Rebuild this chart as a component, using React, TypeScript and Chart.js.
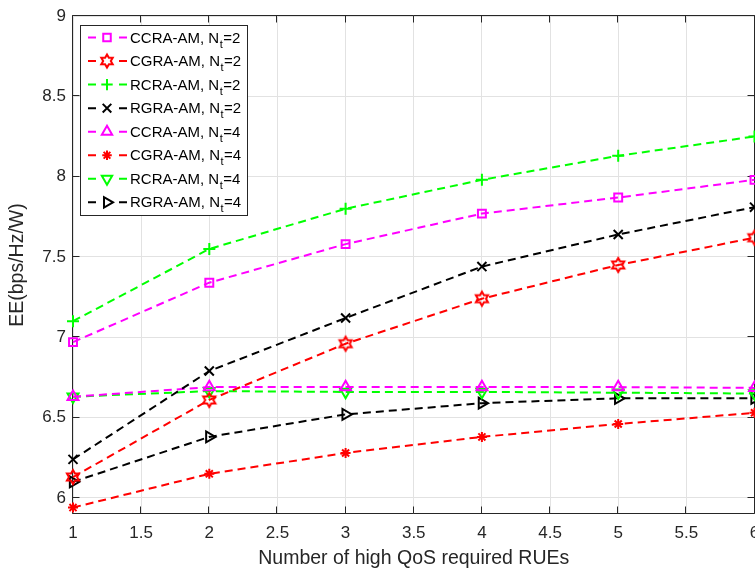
import React, { useEffect, useRef } from "react";
import { Chart, registerables } from "chart.js";
import { drawPoint } from "chart.js/helpers";

Chart.register(...registerables);

// ---------- data ----------
const xValues = [1, 2, 3, 4, 5, 6];
const xTicks = [1, 1.5, 2, 2.5, 3, 3.5, 4, 4.5, 5, 5.5, 6];
const yTicks = [6, 6.5, 7, 7.5, 8, 8.5, 9];

const ccraNt2 = [6.97, 7.34, 7.58, 7.77, 7.87, 7.98];
const cgraNt2 = [6.13, 6.61, 6.96, 7.24, 7.45, 7.62];
const rcraNt2 = [7.1, 7.55, 7.8, 7.98, 8.13, 8.25];
const rgraNt2 = [6.24, 6.79, 7.12, 7.44, 7.64, 7.81];
const ccraNt4 = [6.63, 6.69, 6.69, 6.69, 6.69, 6.685];
const cgraNt4 = [5.94, 6.15, 6.28, 6.38, 6.46, 6.53];
const rcraNt4 = [6.63, 6.665, 6.66, 6.66, 6.655, 6.65];
const rgraNt4 = [6.1, 6.38, 6.52, 6.59, 6.62, 6.62];

const seriesNames = [
  "CCRA-AM, N_t=2",
  "CGRA-AM, N_t=2",
  "RCRA-AM, N_t=2",
  "RGRA-AM, N_t=2",
  "CCRA-AM, N_t=4",
  "CGRA-AM, N_t=4",
  "RCRA-AM, N_t=4",
  "RGRA-AM, N_t=4",
];
const seriesValues = [ccraNt2, cgraNt2, rcraNt2, rgraNt2, ccraNt4, cgraNt4, rcraNt4, rgraNt4];

const xTitle = "Number of high QoS required RUEs";
const yTitle = "EE(bps/Hz/W)";

// ---------- styles ----------
const MAGENTA = "#ff00ff";
const RED = "#ff0000";
const GREEN = "#00ff00";
const BLACK = "#000000";
const AXIS = "#262626";
const GRID = "#e2e2e2";
const FONT = "'Liberation Sans', Arial, Helvetica, sans-serif";

function makeHexagram(color: string, R: number): HTMLCanvasElement {
  const c = document.createElement("canvas");
  const s = Math.ceil(2 * R + 6);
  c.width = s;
  c.height = s;
  const ctx = c.getContext("2d")!;
  const cx = s / 2, cy = s / 2, r = R / Math.sqrt(3);
  ctx.beginPath();
  for (let i = 0; i < 12; i++) {
    const ang = -Math.PI / 2 + (i * Math.PI) / 6;
    const rad = i % 2 === 0 ? R : r;
    const px = cx + rad * Math.cos(ang);
    const py = cy + rad * Math.sin(ang);
    if (i === 0) ctx.moveTo(px, py);
    else ctx.lineTo(px, py);
  }
  ctx.closePath();
  ctx.strokeStyle = color;
  ctx.lineWidth = 2;
  ctx.lineJoin = "miter";
  ctx.stroke();
  return c;
}

export default function App() {
  const ref = useRef<HTMLCanvasElement | null>(null);

  useEffect(() => {
    document.body.style.margin = "0";
    const canvas = ref.current!;
    const hexagram = makeHexagram(RED, 7);
    const hexagramSmall = makeHexagram(RED, 6.6);

    const styles = [
      { color: MAGENTA, pointStyle: "rect", radius: 5.6, rotation: 0 },
      { color: RED, pointStyle: hexagram as any, radius: 8, rotation: 0 },
      { color: GREEN, pointStyle: "cross", radius: 6, rotation: 0 },
      { color: BLACK, pointStyle: "crossRot", radius: 6.4, rotation: 0 },
      { color: MAGENTA, pointStyle: "triangle", radius: 6.3, rotation: 0 },
      { color: RED, pointStyle: "star", radius: 5, rotation: 0 },
      { color: GREEN, pointStyle: "triangle", radius: 6.3, rotation: 180 },
      { color: BLACK, pointStyle: "triangle", radius: 6.3, rotation: 90 },
    ];

    const datasets = seriesValues.map((vals, i) => ({
      label: seriesNames[i],
      data: xValues.map((x, j) => ({ x, y: vals[j] })),
      borderColor: styles[i].color,
      borderWidth: 2,
      borderDash: [8, 5],
      tension: 0,
      fill: false,
      clip: false as any,
      pointStyle: styles[i].pointStyle,
      pointRadius: styles[i].radius,
      pointRotation: styles[i].rotation,
      pointBorderColor: styles[i].color,
      pointBackgroundColor: "rgba(0,0,0,0)",
      pointBorderWidth: 2,
      pointHoverRadius: styles[i].radius,
    }));

    const boxPlugin = {
      id: "matlabBox",
      beforeDatasetsDraw(chart: any) {
        const { ctx, chartArea, scales } = chart;
        const l = Math.round(chartArea.left) - 0.5;
        const r = Math.round(chartArea.right) - 0.5;
        const t = Math.round(chartArea.top) - 0.5;
        const b = Math.round(chartArea.bottom) - 0.5;
        ctx.save();
        ctx.strokeStyle = AXIS;
        ctx.lineWidth = 1;
        ctx.setLineDash([]);
        ctx.beginPath();
        ctx.rect(l, t, r - l, b - t);
        const tl = 7;
        xTicks.forEach((v) => {
          const px = Math.round(scales.x.getPixelForValue(v)) - 0.5;
          ctx.moveTo(px, b);
          ctx.lineTo(px, b - tl);
          ctx.moveTo(px, t);
          ctx.lineTo(px, t + tl);
        });
        yTicks.forEach((v) => {
          const py = Math.round(scales.y.getPixelForValue(v)) - 0.5;
          ctx.moveTo(l, py);
          ctx.lineTo(l + tl, py);
          ctx.moveTo(r, py);
          ctx.lineTo(r - tl, py);
        });
        ctx.stroke();
        ctx.restore();
      },
      afterDraw(chart: any) {
        const { ctx, chartArea, scales } = chart;
        ctx.save();
        // x tick labels
        ctx.fillStyle = AXIS;
        ctx.font = `17px ${FONT}`;
        ctx.textAlign = "center";
        ctx.textBaseline = "alphabetic";
        xTicks.forEach((v) => {
          ctx.fillText(String(v), scales.x.getPixelForValue(v), 538);
        });
        // axis titles
        ctx.font = `19.5px ${FONT}`;
        ctx.fillText(xTitle, (chartArea.left + chartArea.right) / 2, 564);
        ctx.save();
        ctx.translate(23, (chartArea.top + chartArea.bottom) / 2);
        ctx.rotate(-Math.PI / 2);
        ctx.fillText(yTitle, 0, 0);
        ctx.restore();

        // legend
        const lx = 80.5, ly = 25.5, lw = 167, lh = 190;
        ctx.fillStyle = "#ffffff";
        ctx.fillRect(lx, ly, lw, lh);
        ctx.strokeStyle = AXIS;
        ctx.lineWidth = 1;
        ctx.setLineDash([]);
        ctx.strokeRect(lx, ly, lw, lh);
        chart.data.datasets.forEach((ds: any, i: number) => {
          const cy = 37.5 + i * 23.55;
          ctx.strokeStyle = ds.borderColor;
          ctx.lineWidth = 2;
          ctx.setLineDash([]);
          ctx.beginPath();
          ctx.moveTo(88, cy);
          ctx.lineTo(96, cy);
          ctx.moveTo(119, cy);
          ctx.lineTo(127, cy);
          ctx.stroke();
          ctx.fillStyle = "rgba(0,0,0,0)";
          const isImg = typeof ds.pointStyle === "object";
          drawPoint(
            ctx,
            {
              pointStyle: isImg ? hexagramSmall : ds.pointStyle,
              rotation: ds.pointRotation,
              radius: ds.pointRadius * 0.95,
              borderWidth: 2,
            } as any,
            107,
            cy
          );
          // label with subscript
          const label: string = ds.label;
          const m = label.match(/^(.*)_(\w)(.*)$/);
          const main = m ? m[1] : label;
          const sub = m ? m[2] : "";
          const rest = m ? m[3] : "";
          ctx.fillStyle = "#000000";
          ctx.textAlign = "left";
          ctx.textBaseline = "alphabetic";
          const base = cy + 5;
          ctx.font = `15px ${FONT}`;
          let x = 130;
          ctx.fillText(main, x, base);
          x += ctx.measureText(main).width;
          ctx.font = `11px ${FONT}`;
          ctx.fillText(sub, x + 0.5, base + 5);
          x += ctx.measureText(sub).width + 1;
          ctx.font = `15px ${FONT}`;
          ctx.fillText(rest, x, base);
        });
        ctx.restore();
      },
    };

    const chart = new Chart(canvas, {
      type: "line",
      data: { datasets: datasets as any },
      options: {
        responsive: false,
        maintainAspectRatio: false,
        animation: false,
        devicePixelRatio: 1,
        events: [],
        layout: { autoPadding: false, padding: { top: 16, right: 0.5, left: 0, bottom: 0 } },
        plugins: {
          legend: { display: false },
          tooltip: { enabled: false },
          title: { display: false },
        },
        scales: {
          x: {
            type: "linear",
            min: 1,
            max: 6,
            afterBuildTicks: (s: any) => {
              s.ticks = xTicks.map((v) => ({ value: v }));
            },
            afterFit: (s: any) => {
              s.height = 54;
              s.paddingLeft = 0;
              s.paddingRight = 0;
            },
            border: { display: false },
            grid: { color: GRID, lineWidth: 1, drawTicks: false },
            ticks: { display: false },
          },
          y: {
            type: "linear",
            min: 5.9,
            max: 9,
            afterBuildTicks: (s: any) => {
              s.ticks = yTicks.map((v) => ({ value: v }));
            },
            afterFit: (s: any) => {
              s.width = 73;
              s.paddingTop = 0;
              s.paddingBottom = 0;
            },
            border: { display: false },
            grid: { color: GRID, lineWidth: 1, drawTicks: false },
            ticks: {
              color: AXIS,
              font: { family: FONT, size: 17 },
              padding: 7,
              autoSkip: false,
              callback: (v: any) => String(v),
            },
          },
        },
      },
      plugins: [boxPlugin],
    });

    return () => chart.destroy();
  }, []);

  return (
    <div style={{ width: 755, height: 568 }}>
      <canvas ref={ref} width={755} height={568} style={{ display: "block", width: 755, height: 568 }} />
    </div>
  );
}
